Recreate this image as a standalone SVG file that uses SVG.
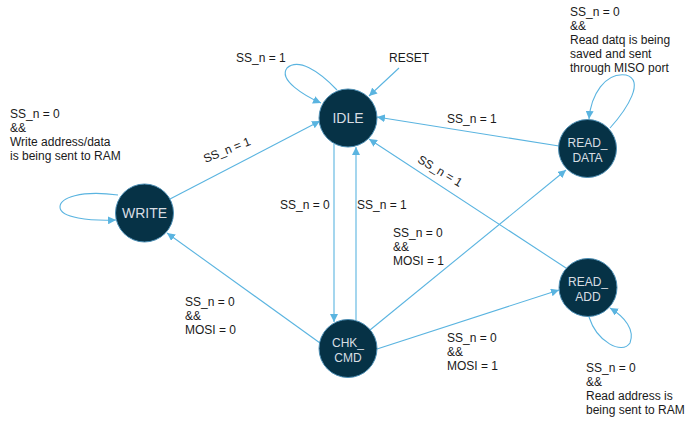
<svg xmlns="http://www.w3.org/2000/svg" width="689" height="425" viewBox="0 0 689 425">
<style>
.node{fill:#063246;stroke:#4d8fb5;stroke-width:1}
.nt{font-family:"Liberation Sans",Arial,sans-serif;fill:#d8dee3;text-anchor:middle}
.e{fill:none;stroke:#5ab4e0;stroke-width:1.1}
.lb{font-family:"Liberation Sans",Arial,sans-serif;font-size:12px;fill:#1a1a1a}
</style>
<defs>
<marker id="ah" markerUnits="userSpaceOnUse" markerWidth="9" markerHeight="8" refX="8" refY="4" orient="auto">
<path d="M0,0 L8,4 L0,8 Z" fill="#5ab4e0"/>
</marker>
</defs>
<rect width="689" height="425" fill="#ffffff"/>
<g id="connectors">
<path class="e" marker-end="url(#ah)" d="M337,90 C318,70 298,58 287,68 C278,80 305,96 321,103"/>
<path class="e" marker-end="url(#ah)" d="M399,68 L369,96"/>
<path class="e" marker-end="url(#ah)" d="M170,199 L320,121"/>
<path class="e" marker-end="url(#ah)" d="M559,146 L377,117"/>
<path class="e" marker-end="url(#ah)" d="M566,268 L369,139"/>
<path class="e" marker-end="url(#ah)" d="M334,144 L334,322"/>
<path class="e" marker-end="url(#ah)" d="M356,320 L356,147"/>
<path class="e" marker-end="url(#ah)" d="M320,343 L167,233"/>
<path class="e" marker-end="url(#ah)" d="M370,330 L566,170"/>
<path class="e" marker-end="url(#ah)" d="M377,349 L559,290"/>
<path class="e" marker-end="url(#ah)" d="M118,195 C80,190 60,198 60,207 C60,218 90,221 116,220"/>
<path class="e" marker-end="url(#ah)" d="M610,128 C628,108 645,80 626,75 C605,72 591,95 589,119"/>
<path class="e" marker-end="url(#ah)" d="M589,317 C597,342 622,355 630,343 C635,330 625,317 610,308"/>
</g>
<g id="labels">
<text class="lb" x="236" y="62">SS_n = 1</text>
<text class="lb" x="389" y="62">RESET</text>
<text class="lb" x="227" y="154" text-anchor="middle" transform="rotate(-22 227 150)">SS_n = 1</text>
<text class="lb" x="447" y="123">SS_n = 1</text>
<text class="lb" x="440" y="175" text-anchor="middle" transform="rotate(31 440 171)">SS_n = 1</text>
<text class="lb" x="280" y="209">SS_n = 0</text>
<text class="lb" x="357" y="209">SS_n = 1</text>
<text class="lb" x="10" y="118">SS_n = 0</text>
<text class="lb" x="10" y="132">&amp;&amp;</text>
<text class="lb" x="10" y="146">Write address/data</text>
<text class="lb" x="10" y="160">is being sent to RAM</text>
<text class="lb" x="570" y="16">SS_n = 0</text>
<text class="lb" x="570" y="30">&amp;&amp;</text>
<text class="lb" x="570" y="44">Read datq is being</text>
<text class="lb" x="570" y="58">saved and sent</text>
<text class="lb" x="570" y="72">through MISO port</text>
<text class="lb" x="393" y="237">SS_n = 0</text>
<text class="lb" x="393" y="251">&amp;&amp;</text>
<text class="lb" x="393" y="265">MOSI = 1</text>
<text class="lb" x="185" y="306">SS_n = 0</text>
<text class="lb" x="185" y="320">&amp;&amp;</text>
<text class="lb" x="185" y="334">MOSI = 0</text>
<text class="lb" x="447" y="342">SS_n = 0</text>
<text class="lb" x="447" y="356">&amp;&amp;</text>
<text class="lb" x="447" y="370">MOSI = 1</text>
<text class="lb" x="586" y="372">SS_n = 0</text>
<text class="lb" x="586" y="386">&amp;&amp;</text>
<text class="lb" x="586" y="400">Read address is</text>
<text class="lb" x="586" y="414">being sent to RAM</text>
</g>
<g id="IDLE">
<circle class="node" cx="348" cy="118" r="29"/>
<text class="nt" x="348" y="123" font-size="14">IDLE</text>
</g>
<g id="WRITE">
<circle class="node" cx="144.5" cy="213" r="29"/>
<text class="nt" x="144.5" y="218" font-size="14">WRITE</text>
</g>
<g id="READ_DATA">
<circle class="node" cx="587.5" cy="148.5" r="29"/>
<text class="nt" x="587.5" y="147" font-size="12">READ_</text>
<text class="nt" x="587.5" y="162" font-size="12">DATA</text>
</g>
<g id="CHK_CMD">
<circle class="node" cx="348" cy="348.5" r="29"/>
<text class="nt" x="348" y="347" font-size="12">CHK_</text>
<text class="nt" x="348" y="362" font-size="12">CMD</text>
</g>
<g id="READ_ADD">
<circle class="node" cx="588" cy="287.5" r="29"/>
<text class="nt" x="588" y="286" font-size="12">READ_</text>
<text class="nt" x="588" y="301" font-size="12">ADD</text>
</g>
</svg>
